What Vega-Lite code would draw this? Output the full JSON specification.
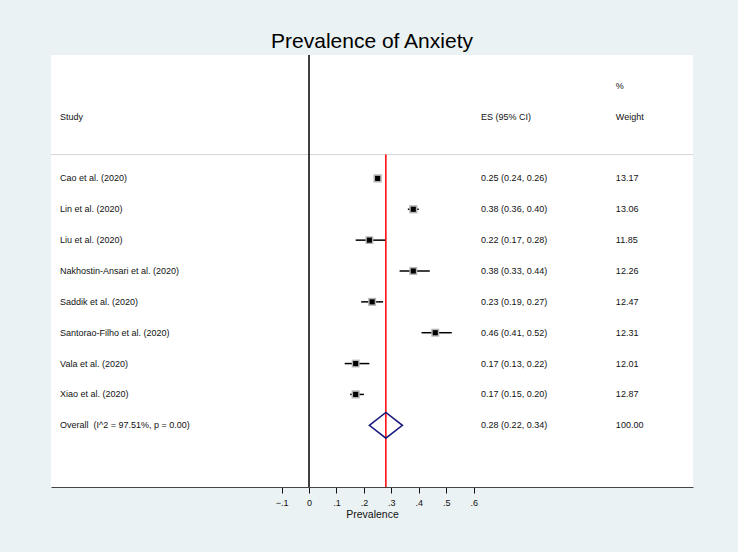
{
  "$schema": "https://vega.github.io/schema/vega-lite/v6.json",
  "width": 642,
  "height": 432,
  "autosize": {"type": "none"},
  "padding": {"left": 51, "top": 55, "right": 45, "bottom": 65},
  "background": "#EAF2F3",
  "title": {"text": "Prevalence of Anxiety", "fontSize": 21, "font": "Liberation Sans", "fontWeight": "normal", "color": "#000000", "anchor": "middle", "offset": 2},
  "config": {
    "view": {"fill": "white", "stroke": null},
    "font": "Liberation Sans",
    "text": {"font": "Liberation Sans", "fontSize": 9, "color": "#111111"}
  },
  "datasets": {
    "studies": [
      {"study": "Cao et al. (2020)", "kind": "study", "es": 0.25, "lo": 0.24, "hi": 0.26, "weight": 13.17},
      {"study": "Lin et al. (2020)", "kind": "study", "es": 0.38, "lo": 0.36, "hi": 0.40, "weight": 13.06},
      {"study": "Liu et al. (2020)", "kind": "study", "es": 0.22, "lo": 0.17, "hi": 0.28, "weight": 11.85},
      {"study": "Nakhostin-Ansari et al. (2020)", "kind": "study", "es": 0.38, "lo": 0.33, "hi": 0.44, "weight": 12.26},
      {"study": "Saddik et al. (2020)", "kind": "study", "es": 0.23, "lo": 0.19, "hi": 0.27, "weight": 12.47},
      {"study": "Santorao-Filho et al. (2020)", "kind": "study", "es": 0.46, "lo": 0.41, "hi": 0.52, "weight": 12.31},
      {"study": "Vala et al. (2020)", "kind": "study", "es": 0.17, "lo": 0.13, "hi": 0.22, "weight": 12.01},
      {"study": "Xiao et al. (2020)", "kind": "study", "es": 0.17, "lo": 0.15, "hi": 0.20, "weight": 12.87},
      {"study": "Overall\u00a0 (I^2 = 97.51%, p = 0.00)", "kind": "overall", "es": 0.28, "lo": 0.22, "hi": 0.34, "weight": 100.00}
    ],
    "header": [
      {"row": "h1", "c1": "", "c2": "", "c3": "%"},
      {"row": "h2", "c1": "Study", "c2": "ES (95% CI)", "c3": "Weight"}
    ]
  },
  "layer": [
    {
      "data": {"name": "studies"},
      "transform": [{"filter": "datum.kind == 'study'"}],
      "mark": {"type": "rule", "color": "#000000", "strokeWidth": 1.5},
      "encoding": {
        "x": {
          "field": "lo", "type": "quantitative",
          "scale": {"domain": [-0.940, 1.399], "nice": false, "zero": false},
          "axis": {
            "values": [-0.1, 0, 0.1, 0.2, 0.3, 0.4, 0.5, 0.6],
            "labelExpr": "datum.value == 0 ? '0' : replace(format(datum.value, '.1f'), '0.', '.')",
            "title": "Prevalence",
            "grid": false,
            "domainColor": "#444444",
            "domainWidth": 1.2,
            "tickColor": "#111111",
            "tickSize": 6,
            "tickWidth": 1,
            "labelFont": "Liberation Sans",
            "labelFontSize": 9,
            "labelColor": "#111111",
            "labelPadding": 5,
            "labelFlush": false,
            "titleFont": "Liberation Sans",
            "titleFontSize": 10.5,
            "titleFontWeight": "normal",
            "titleColor": "#111111",
            "titlePadding": 2
          }
        },
        "x2": {"field": "hi"},
        "y": {
          "field": "study", "type": "nominal",
          "scale": {
            "type": "point",
            "domain": ["h1", "h2", "g1", "Cao et al. (2020)", "Lin et al. (2020)", "Liu et al. (2020)", "Nakhostin-Ansari et al. (2020)", "Saddik et al. (2020)", "Santorao-Filho et al. (2020)", "Vala et al. (2020)", "Xiao et al. (2020)", "Overall\u00a0 (I^2 = 97.51%, p = 0.00)", "b1"],
            "padding": 1.08
          },
          "axis": null
        }
      }
    },
    {
      "data": {"values": [{}]},
      "mark": {"type": "rule", "color": "#d4d4d4", "strokeWidth": 1, "yOffset": 7},
      "encoding": {"y": {"datum": "g1", "type": "nominal"}}
    },
    {
      "data": {"values": [{}]},
      "mark": {"type": "rule", "color": "#000000", "strokeWidth": 1.5},
      "encoding": {"x": {"datum": 0, "type": "quantitative"}}
    },
    {
      "data": {"name": "studies"},
      "transform": [{"filter": "datum.kind == 'overall'"}],
      "mark": {"type": "rule", "color": "#ff0000", "strokeWidth": 1.5, "yOffset": 7},
      "encoding": {
        "x": {"field": "es", "type": "quantitative"},
        "y": {"datum": "g1", "type": "nominal"},
        "y2": {"value": {"expr": "height"}}
      }
    },
    {
      "data": {"name": "studies"},
      "transform": [{"filter": "datum.kind == 'study'"}],
      "mark": {"type": "point", "shape": "square", "filled": true, "color": "#b4b4b4", "opacity": 1},
      "encoding": {
        "x": {"field": "es", "type": "quantitative"},
        "y": {"field": "study", "type": "nominal"},
        "size": {"field": "weight", "type": "quantitative", "scale": {"type": "linear", "domain": [0, 14], "range": [0, 72]}, "legend": null}
      }
    },
    {
      "data": {"name": "studies"},
      "transform": [{"filter": "datum.kind == 'study'"}],
      "mark": {"type": "point", "shape": "square", "filled": true, "color": "#000000", "opacity": 1, "size": 26},
      "encoding": {
        "x": {"field": "es", "type": "quantitative"},
        "y": {"field": "study", "type": "nominal"}
      }
    },
    {
      "data": {"name": "studies"},
      "transform": [{"filter": "datum.kind == 'overall'"}],
      "mark": {"type": "point", "shape": "M-1,0L0,-0.78L1,0L0,0.78Z", "filled": false, "stroke": "#1b1b80", "strokeWidth": 1.6, "opacity": 1, "size": 1089},
      "encoding": {
        "x": {"field": "es", "type": "quantitative"},
        "y": {"field": "study", "type": "nominal"}
      }
    },
    {
      "data": {"name": "studies"},
      "mark": {"type": "text", "align": "left", "baseline": "middle"},
      "encoding": {
        "x": {"datum": -0.907, "type": "quantitative"},
        "y": {"field": "study", "type": "nominal"},
        "text": {"field": "study"}
      }
    },
    {
      "data": {"name": "studies"},
      "transform": [{"calculate": "format(datum.es, '.2f') + ' (' + format(datum.lo, '.2f') + ', ' + format(datum.hi, '.2f') + ')'", "as": "esci"}],
      "mark": {"type": "text", "align": "left", "baseline": "middle"},
      "encoding": {
        "x": {"datum": 0.627, "type": "quantitative"},
        "y": {"field": "study", "type": "nominal"},
        "text": {"field": "esci"}
      }
    },
    {
      "data": {"name": "studies"},
      "mark": {"type": "text", "align": "left", "baseline": "middle"},
      "encoding": {
        "x": {"datum": 1.118, "type": "quantitative"},
        "y": {"field": "study", "type": "nominal"},
        "text": {"field": "weight", "format": ".2f"}
      }
    },
    {
      "data": {"name": "header"},
      "mark": {"type": "text", "align": "left", "baseline": "middle"},
      "encoding": {
        "x": {"datum": -0.907, "type": "quantitative"},
        "y": {"field": "row", "type": "nominal"},
        "text": {"field": "c1"}
      }
    },
    {
      "data": {"name": "header"},
      "mark": {"type": "text", "align": "left", "baseline": "middle"},
      "encoding": {
        "x": {"datum": 0.627, "type": "quantitative"},
        "y": {"field": "row", "type": "nominal"},
        "text": {"field": "c2"}
      }
    },
    {
      "data": {"name": "header"},
      "mark": {"type": "text", "align": "left", "baseline": "middle"},
      "encoding": {
        "x": {"datum": 1.118, "type": "quantitative"},
        "y": {"field": "row", "type": "nominal"},
        "text": {"field": "c3"}
      }
    }
  ]
}
